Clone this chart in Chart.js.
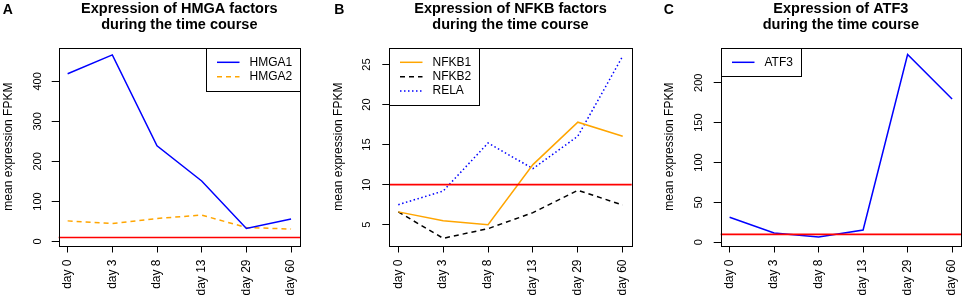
<!DOCTYPE html>
<html><head><meta charset="utf-8">
<script src="https://cdn.jsdelivr.net/npm/chart.js@4/dist/chart.umd.min.js"></script>
<style>
html,body{margin:0;padding:0;background:#fff;}
#wrap{position:relative;width:964px;height:298px;overflow:hidden;background:#fff;}
canvas{position:absolute;top:0;}
</style></head><body>
<div id="wrap">
<canvas id="cA" width="321" height="298" style="left:0px"></canvas>
<canvas id="cB" width="321" height="298" style="left:321px"></canvas>
<canvas id="cC" width="322" height="298" style="left:642px"></canvas>
</div>
<script>
// ---- data ----
const categories = ['day 0', 'day 3', 'day 8', 'day 13', 'day 29', 'day 60'];
const hmga1 = [419, 466, 239, 151, 32.5, 56];
const hmga2 = [51.5, 45, 57.5, 66, 35, 31];
const nfkb1 = [6.6, 5.5, 5.0, 12.5, 17.8, 16.05];
const nfkb2 = [6.6, 3.3, 4.5, 6.5, 9.3, 7.45];
const rela = [7.5, 9.2, 15.2, 12.0, 16.05, 26.05];
const atf3 = [31.5, 11.7, 6.7, 15.4, 235.4, 179.6];
const threshold = 10;
const yTicksA = [0, 100, 200, 300, 400];
const yTicksB = [5, 10, 15, 20, 25];
const yTicksC = [0, 50, 100, 150, 200];
const titleA = ['Expression of HMGA factors', 'during the time course'];
const titleB = ['Expression of NFKB factors', 'during the time course'];
const titleC = ['Expression of ATF3', 'during the time course'];
const yAxisLabel = 'mean expression FPKM';

const FONT = "'Liberation Sans', Arial, Helvetica, sans-serif";
Chart.defaults.font.family = FONT;
Chart.defaults.color = '#000';

const toPoints = vals => vals.map((v, i) => ({x: i, y: v}));

const decor = {
  id: 'decor',
  afterDatasetsDraw(chart, args, o) {
    const {ctx, chartArea: a, scales: {y}} = chart;
    ctx.save();
    // threshold line
    const ty = y.getPixelForValue(o.threshold);
    ctx.strokeStyle = '#ff0000'; ctx.lineWidth = 1.7; ctx.setLineDash([]);
    ctx.beginPath(); ctx.moveTo(a.left, ty); ctx.lineTo(a.right, ty); ctx.stroke();
    // plot box
    ctx.strokeStyle = '#000'; ctx.lineWidth = 1;
    ctx.strokeRect(Math.round(a.left) + 0.5, Math.round(a.top) + 0.5,
      Math.round(a.right) - Math.round(a.left), Math.round(a.bottom) - Math.round(a.top));
    // rotated y tick labels
    ctx.fillStyle = '#000';
    ctx.font = o.yTickSize + 'px ' + FONT;
    ctx.textAlign = 'center'; ctx.textBaseline = 'middle';
    y.ticks.forEach(t => {
      const py = y.getPixelForValue(t.value);
      ctx.save(); ctx.translate(a.left - o.yLabelOffset, py); ctx.rotate(-Math.PI / 2);
      ctx.fillText(String(t.value), 0, 0); ctx.restore();
    });
    // panel letter
    ctx.font = 'bold 14px ' + FONT; ctx.textAlign = 'left'; ctx.textBaseline = 'alphabetic';
    ctx.fillText(o.letter, o.letterX, 14);
    // legend
    const ds = chart.data.datasets;
    ctx.font = '12px ' + FONT;
    const maxW = Math.max(...ds.map(d => ctx.measureText(d.label).width));
    const w = 43.5 + maxW + 8, h = ds.length * 14.4 + 14;
    const bx = o.legendRight ? Math.round(a.right - w) : Math.round(a.left);
    const by = Math.round(a.top);
    ctx.fillStyle = '#fff'; ctx.fillRect(bx, by, w, h);
    ctx.strokeStyle = '#000'; ctx.lineWidth = 1;
    ctx.strokeRect(bx + 0.5, by + 0.5, Math.round(w), Math.round(h));
    ds.forEach((d, i) => {
      const ly = by + 14.3 + i * 14.4;
      ctx.strokeStyle = d.borderColor; ctx.lineWidth = d.borderWidth;
      ctx.setLineDash(d.borderDash || []);
      ctx.beginPath(); ctx.moveTo(bx + 11, ly); ctx.lineTo(bx + 33.5, ly); ctx.stroke();
      ctx.setLineDash([]);
      ctx.fillStyle = '#000'; ctx.textBaseline = 'middle';
      ctx.fillText(d.label, bx + 43.5, ly);
    });
    ctx.restore();
  }
};

function makePanel(id, cfg) {
  const el = document.getElementById(id);
  const W = el.width, H = el.height;
  const plotTop = 47.7, plotBottom = 245.5;
  new Chart(el, {
    type: 'line',
    data: {datasets: cfg.datasets.map(d => Object.assign({
      data: toPoints(d.values), pointRadius: 0, borderWidth: 1.5, fill: false, tension: 0,
      borderCapStyle: 'butt', borderJoinStyle: 'miter'
    }, d.style, {label: d.label}))},
    plugins: [decor],
    options: {
      responsive: false, animation: false,
      layout: {padding: {left: cfg.padLeft, right: W - cfg.plotRight, top: 0, bottom: 0}},
      plugins: {
        legend: {display: false}, tooltip: {enabled: false},
        title: {display: true, text: cfg.title, fullSize: false, color: '#000',
          font: {size: 14.5, weight: 'bold', lineHeight: 16 / 14.5},
          padding: {top: 1, bottom: plotTop - 1 - 32}},
        decor: {threshold, letter: cfg.letter, letterX: cfg.letterX, yLabelOffset: cfg.yLabelOffset,
          yTickSize: 11, legendRight: cfg.legendRight}
      },
      scales: {
        x: {
          type: 'linear', min: -0.2, max: 5.2,
          afterBuildTicks: s => { s.ticks = categories.map((c, i) => ({value: i})); },
          afterFit: s => { s.height = H - plotBottom; s.paddingLeft = 0; s.paddingRight = 0; },
          ticks: {autoSkip: false, minRotation: 90, maxRotation: 90, padding: 7, color: '#000',
            font: {size: 12}, callback: v => categories[v]},
          grid: {drawOnChartArea: false, drawTicks: true, tickLength: 7, color: '#000'},
          border: {display: false}
        },
        y: {
          type: 'linear', min: cfg.yMin, max: cfg.yMax,
          afterBuildTicks: s => { s.ticks = cfg.yTicks.map(v => ({value: v})); },
          afterFit: s => { s.width = cfg.plotLeft - cfg.padLeft; s.paddingTop = 0; s.paddingBottom = 0; },
          ticks: {display: false},
          grid: {drawOnChartArea: false, drawTicks: true, tickLength: 7, color: '#000'},
          border: {display: false},
          title: {display: true, text: yAxisLabel, color: '#000', font: {size: 12}, padding: {top: 0, bottom: 0}}
        }
      }
    }
  });
}

makePanel('cA', {
  letter: 'A', letterX: 2.7, title: titleA, yTicks: yTicksA, yMin: -10, yMax: 484,
  padLeft: 1.3, plotLeft: 58.7, plotRight: 300, yLabelOffset: 21, legendRight: true,
  datasets: [
    {label: 'HMGA1', values: hmga1, style: {borderColor: '#0000ff'}},
    {label: 'HMGA2', values: hmga2, style: {borderColor: '#ffa500', borderDash: [5, 4]}}
  ]
});
makePanel('cB', {
  letter: 'B', letterX: 13.3, title: titleB, yTicks: yTicksB, yMin: 2.4, yMax: 27.1,
  padLeft: 10.8, plotLeft: 68.3, plotRight: 310.7, yLabelOffset: 22, legendRight: false,
  datasets: [
    {label: 'NFKB1', values: nfkb1, style: {borderColor: '#ffa500'}},
    {label: 'NFKB2', values: nfkb2, style: {borderColor: '#000000', borderDash: [5, 4]}},
    {label: 'RELA', values: rela, style: {borderColor: '#0000ff', borderDash: [1.5, 2.5]}}
  ]
});
makePanel('cC', {
  letter: 'C', letterX: 21.7, title: titleC, yTicks: yTicksC, yMin: -4, yMax: 244,
  padLeft: 20.8, plotLeft: 78.7, plotRight: 319, yLabelOffset: 22, legendRight: false,
  datasets: [
    {label: 'ATF3', values: atf3, style: {borderColor: '#0000ff'}}
  ]
});
</script>
</body></html>
